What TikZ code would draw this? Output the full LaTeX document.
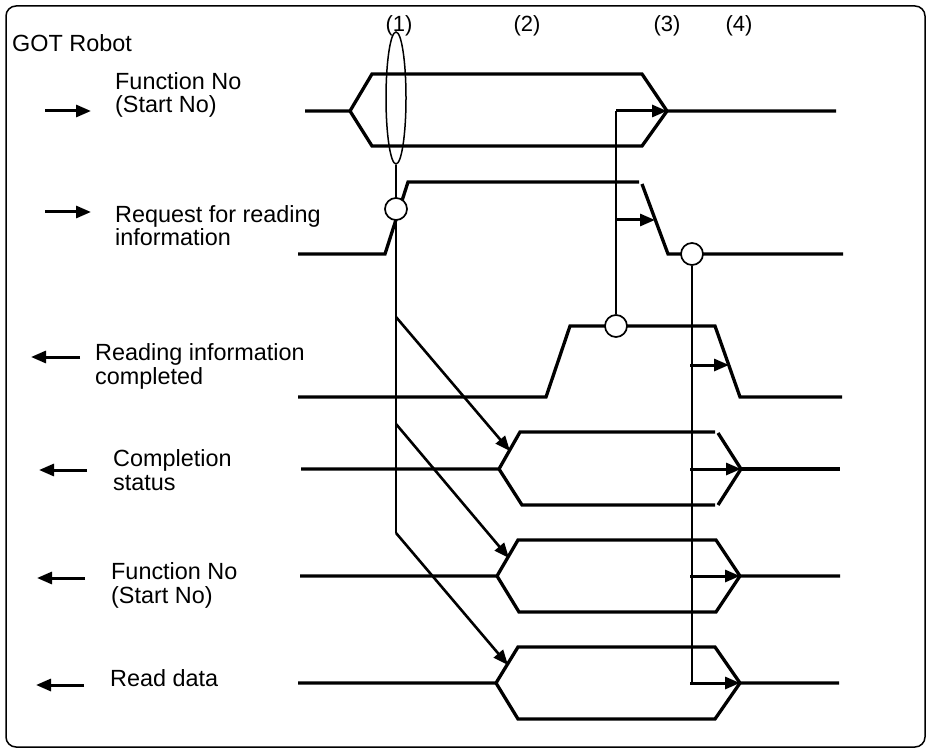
\documentclass[tikz,border=0pt]{standalone}
\usepackage{fontspec}
\setmainfont{Liberation Sans}
\usetikzlibrary{arrows.meta,shapes.geometric}
\begin{document}
\begin{tikzpicture}[x=1pt,y=-1pt,
  sig/.style={line width=3.3pt},
  thinln/.style={line width=1.7pt},
  arr/.style={line width=3pt,-{Triangle[length=15pt,width=12pt]}},
  larr/.style={line width=3pt,-{Triangle[length=15pt,width=12pt]}},
  lbl/.style={font=\fontsize{23.4}{23.5}\selectfont,align=left,anchor=base west,inner sep=0pt},
  num/.style={font=\fontsize{22}{23.5}\selectfont,anchor=base,inner sep=0pt},
  dot/.style={circle,draw,fill=white,line width=1.7pt,minimum size=22pt,inner sep=0pt}]
\useasboundingbox (0,0) rectangle (928,751);
% frame
\draw[line width=1.5pt,rounded corners=10pt] (6,6) rectangle (925,747);
% header texts
\node[lbl] (head) at (12,52) {GOT Robot};
\node[num] (n1) at (399,32) {(1)};
\node[num] (n2) at (527,32) {(2)};
\node[num] (n3) at (667,32) {(3)};
\node[num] (n4) at (739,32) {(4)};
% signal labels (anchor = baseline of last line)
\node[lbl] (t1) at (115,113) {Function No\\(Start No)};
\node[lbl] (t2) at (115,246) {Request for reading\\information};
\node[lbl] (t3) at (95,384) {Reading information\\completed};
\node[lbl] (t4) at (113,490) {Completion\\status};
\node[lbl] (t5) at (111,603) {Function No\\(Start No)};
\node[lbl] (t6) at (110,686) {Read data};
% direction arrows
\coordinate (a1s) at (45,111); \coordinate (a1e) at (91,111);
\coordinate (a2s) at (45,212); \coordinate (a2e) at (91,212);
\coordinate (a3s) at (80,357); \coordinate (a3e) at (31,357);
\coordinate (a4s) at (87,470); \coordinate (a4e) at (39,470);
\coordinate (a5s) at (85,578); \coordinate (a5e) at (37,578);
\coordinate (a6s) at (84,685); \coordinate (a6e) at (36,685);
\draw[larr] (a1s) -- (a1e);
\draw[larr] (a2s) -- (a2e);
\draw[larr] (a3s) -- (a3e);
\draw[larr] (a4s) -- (a4e);
\draw[larr] (a5s) -- (a5e);
\draw[larr] (a6s) -- (a6e);
% row 1: Function No (Start No)
\draw[sig] (305,111) -- (350,111) -- (372,74) -- (642,74) -- (667,111) -- (836,111);
\draw[sig] (350,111) -- (372,146) -- (642,146) -- (667,111);
% row 2: Request for reading information
\draw[sig] (298,254) -- (385,254) -- (408,182) -- (639,182);
\draw[sig] (642,184) -- (668,254) -- (843,254);
% row 3: Reading information completed
\draw[sig] (298,397) -- (546,397) -- (570,326) -- (715,326) -- (740,397) -- (842,397);
% row 4: Completion status
\draw[sig] (301,469) -- (499,469) -- (520,432) -- (715,432);
\draw[sig] (718,433) -- (741,469) -- (718,505);
\draw[sig] (499,469) -- (522,505) -- (715,505);
\draw[sig] (741,469) -- (840,469);
% row 5: Function No (Start No)
\draw[sig] (300,576) -- (497,576) -- (518,540) -- (716,540) -- (740,576) -- (840,576);
\draw[sig] (497,576) -- (519,612) -- (716,612) -- (740,576);
% row 6: Read data
\draw[sig] (298,683) -- (496,683) -- (518,647) -- (715,647) -- (740,683) -- (839,683);
\draw[sig] (496,683) -- (518,719) -- (715,719) -- (740,683);
% (1) ellipse and its vertical line
\node[draw,ellipse,line width=1.5pt,minimum width=20pt,minimum height=132pt,inner sep=0pt] (ell) at (396,98) {};
\coordinate (v1b) at (396,533);
\draw[thinln] (ell.south) -- (v1b);
\node[dot] (c1) at (396,209) {};
% diagonal arrows from (1)
\coordinate (d1s) at (396,317); \coordinate (d1e) at (510,451);
\coordinate (d2s) at (396,424); \coordinate (d2e) at (509,558);
\coordinate (d3s) at (396,533); \coordinate (d3e) at (508,665);
\draw[arr,line width=2.6pt] (d1s) -- (d1e);
\draw[arr,line width=2.6pt] (d2s) -- (d2e);
\draw[arr,line width=2.6pt] (d3s) -- (d3e);
% (2) circle on reading information completed
\node[dot] (c3) at (616,326) {};
\coordinate (v2t) at (616,111);
\draw[thinln] (c3.north) -- (v2t);
\coordinate (r1e) at (667,111);
\draw[arr] (v2t) -- (r1e);
\coordinate (r2s) at (615,220); \coordinate (r2e) at (655,220);
\draw[arr] (r2s) -- (r2e);
% (3) circle on request falling edge
\node[dot] (c2) at (692,254) {};
\coordinate (v3b) at (692,683);
\draw[thinln] (c2.south) -- (v3b);
\coordinate (r3s) at (690,365); \coordinate (r3e) at (729,365);
\coordinate (r4s) at (690,469); \coordinate (r4e) at (741,469);
\coordinate (r5s) at (690,576); \coordinate (r5e) at (740,576);
\coordinate (r6s) at (690,683); \coordinate (r6e) at (740,683);
\draw[arr] (r3s) -- (r3e);
\draw[arr] (r4s) -- (r4e);
\draw[arr] (r5s) -- (r5e);
\draw[arr] (r6s) -- (r6e);
\end{tikzpicture}
\end{document}
